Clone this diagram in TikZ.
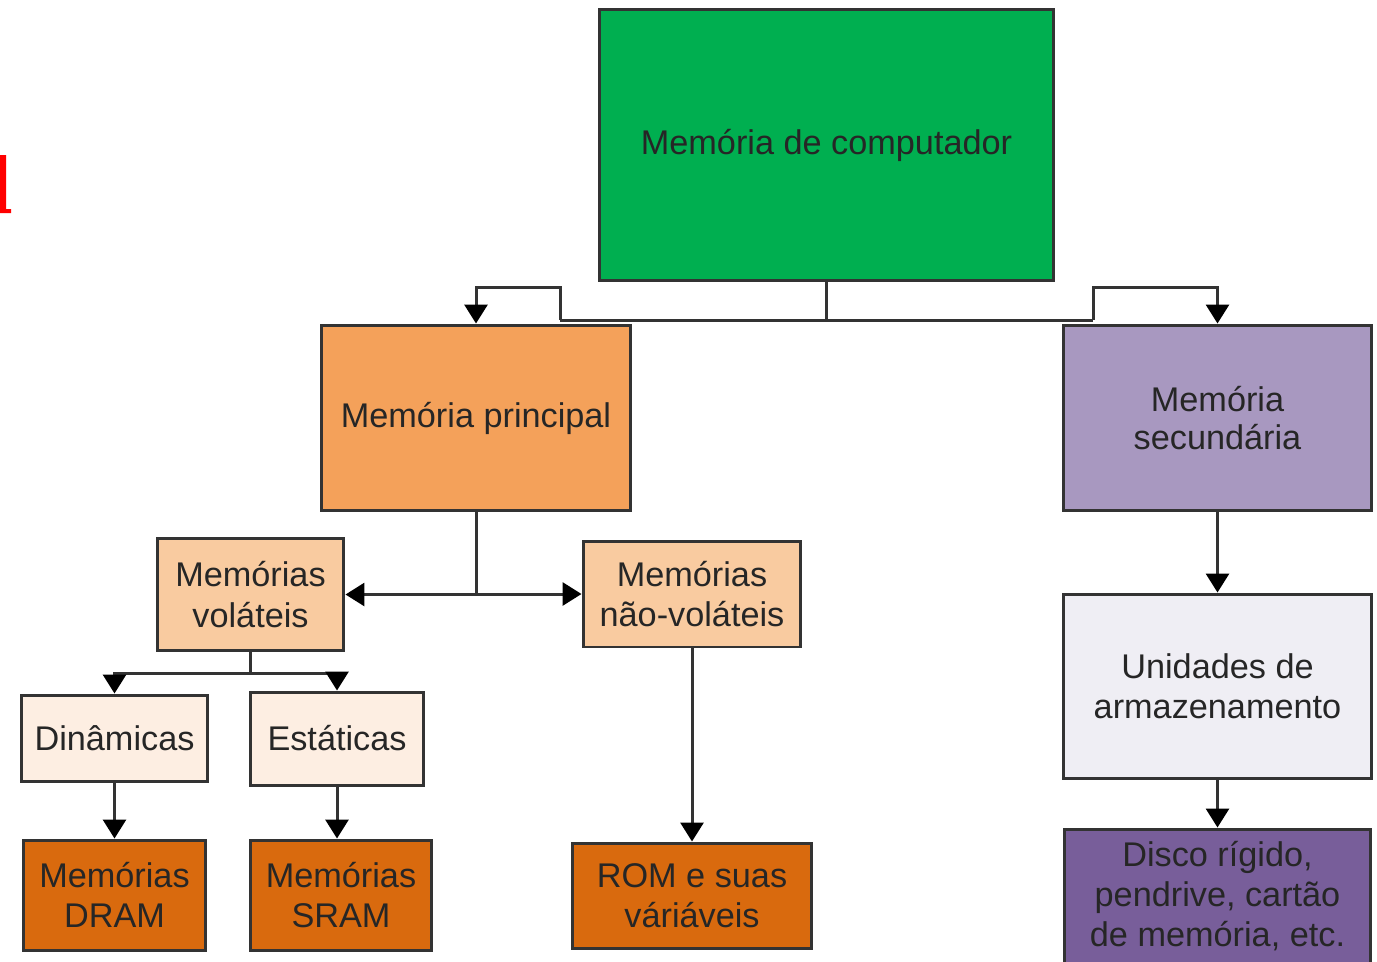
\documentclass[tikz,border=0pt]{standalone}
\usepackage{fontspec}
\setmainfont{Liberation Sans}
\usetikzlibrary{arrows.meta}

\definecolor{verde}{HTML}{00AF50}
\definecolor{laranja}{HTML}{F4A15A}
\definecolor{pessego}{HTML}{F9CBA0}
\definecolor{creme}{HTML}{FDEEE2}
\definecolor{ferrugem}{HTML}{D96A0E}
\definecolor{lilas}{HTML}{A898C0}
\definecolor{cinza}{HTML}{EFEEF4}
\definecolor{roxo}{HTML}{785E9A}
\definecolor{borda}{HTML}{333333}

\tikzstyle{every node} = [font=\fontsize{19.5}{23}\selectfont, text=black!85]
\tikzstyle{box} = [draw=borda, line width=0.06cm, inner sep=0pt, align=center]
\tikzstyle{line} = [draw=borda, line width=0.06cm]
\tikzstyle{arr} = [line, -{Triangle[width=0.46cm, length=0.38cm, color=black]}]

\begin{document}
\begin{tikzpicture}[x=0.02cm, y=-0.02cm]
        \clip (0,0) rectangle (1377,961);
        \fill[white] (0,0) rectangle (1377,961);
        % red bit of a letter on the left edge
        \fill[red] (0,155) -- (6,155) -- (6,209) -- (11,209) -- (11,213) -- (0,213) -- cycle;

        % boxes
        \node[box, fill=verde, minimum width=9.1cm, minimum height=5.44cm] (top) at (826.5,145) {Memória de computador};
        \node[box, fill=laranja, minimum width=6.2cm, minimum height=3.72cm] (principal) at (476,418) {Memória principal};
        \node[box, fill=lilas, minimum width=6.18cm, minimum height=3.72cm] (secundaria) at (1217.5,418) {Memória\\[-1pt]secundária};
        \node[box, fill=pessego, minimum width=3.74cm, minimum height=2.26cm] (volateis) at (250.5,594.5) {Memórias\\voláteis};
        \node[box, fill=pessego, minimum width=4.36cm, minimum height=2.12cm] (naovolateis) at (692,594) {Memórias\\não-voláteis};
        \node[box, fill=creme, minimum width=3.74cm, minimum height=1.72cm] (dinamicas) at (114.5,738) {Dinâmicas};
        \node[box, fill=creme, minimum width=3.48cm, minimum height=1.86cm] (estaticas) at (337,738.5) {Estáticas};
        \node[box, fill=ferrugem, minimum width=3.66cm, minimum height=2.2cm] (dram) at (114.5,895) {Memórias\\DRAM};
        \node[box, fill=ferrugem, minimum width=3.64cm, minimum height=2.2cm] (sram) at (341,895) {Memórias\\SRAM};
        \node[box, fill=ferrugem, minimum width=4.8cm, minimum height=2.1cm] (rom) at (692,895.5) {ROM e suas\\váriáveis};
        \node[box, fill=cinza, minimum width=6.18cm, minimum height=3.7cm] (unidades) at (1217.5,686.5) {Unidades de\\armazenamento};
        \node[box, fill=roxo, minimum width=6.14cm, minimum height=2.68cm] (disco) at (1217.5,896) {Disco rígido,\\pendrive, cartão\\de memória, etc.};

        % connectors
        \coordinate (jl) at (560,320);
        \coordinate (jr) at (1093,320);
        \coordinate (jv) at (250.5,673);
        \draw[line] (top.south) |- (jl);
        \draw[line] (top.south |- jl) -- (jr);
        \draw[arr] (jl) -- ++(0,-33) -| (principal.north);
        \draw[arr] (jr) -- ++(0,-33) -| (secundaria.north);
        \draw[arr] (principal.south) |- (volateis.east);
        \draw[arr] (principal.south) |- (naovolateis.west);
        \draw[line] (volateis.south) -- (jv);
        \draw[arr] (jv) -| (dinamicas.north);
        \draw[arr] (jv) -| (estaticas.north);
        \draw[arr] (dinamicas.south) -- (dram.north);
        \draw[arr] (estaticas.south) -- (estaticas.south |- sram.north);
        \draw[arr] (naovolateis.south) -- (rom.north);
        \draw[arr] (secundaria.south) -- (unidades.north);
        \draw[arr] (unidades.south) -- (disco.north);
\end{tikzpicture}
\end{document}
